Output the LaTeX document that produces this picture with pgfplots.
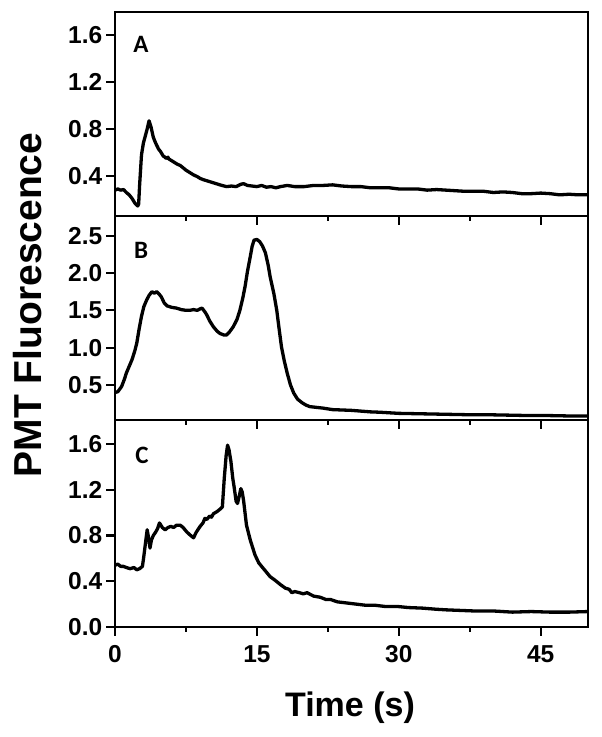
\documentclass[border=0pt]{standalone}
\usepackage{fontspec}
\setmainfont{Liberation Sans}
\newfontfamily\carlito{Carlito}
\usepackage{pgfplots}
\pgfplotsset{compat=1.18}
\tikzset{plabel/.style={font=\carlito\fontsize{25}{28}\selectfont\bfseries}}
\begin{document}
\begin{tikzpicture}
\useasboundingbox (0pt,0pt) rectangle (602pt,737pt);
\pgfplotsset{
 panel/.style={
  scale only axis, width=473pt, xmin=0, xmax=50,
  axis line style={line width=2.6pt},
  tick align=outside, xtick pos=bottom, ytick pos=left,
  major tick length=9pt, minor tick length=5pt,
  major tick style={line width=2.3pt, black},
  minor tick style={line width=2.3pt, black},
  xtick={0,15,30,45}, minor xtick={7.5,22.5,37.5},
  /pgf/number format/assume math mode=true,
  ticklabel style={font=\fontsize{24.5}{27}\selectfont\bfseries},
  yticklabel style={inner sep=3.5pt, /pgf/number format/.cd, fixed, fixed zerofill, precision=1},
  xticklabel style={inner sep=4pt, yshift=-5pt},
 },
 trace/.style={black, line width=3.3pt, no marks, line join=round},
}
% Panel A
\begin{axis}[panel, at={(115pt,521pt)}, anchor=south west, height=204pt,
  ymin=0.06, ymax=1.796, ytick={0.4,0.8,1.2,1.6}, xticklabels={}]
\addplot[trace] coordinates {
(0,0.28)(0.3,0.29)(0.6,0.28)(0.9,0.285)(1.2,0.26)(1.5,0.24)(1.8,0.21)(2.1,0.17)(2.4,0.145)(2.5,0.16)
(2.6,0.32)(2.8,0.58)(3.0,0.68)(3.2,0.74)(3.4,0.80)(3.6,0.87)(3.8,0.82)(4.05,0.73)(4.3,0.68)(4.6,0.63)
(4.8,0.61)(5.1,0.57)(5.3,0.56)(5.4,0.55)(5.6,0.56)(5.7,0.545)(6.0,0.53)(6.3,0.515)(6.6,0.50)(6.9,0.49)(7.2,0.47)(7.5,0.45)
(7.9,0.43)(8.3,0.41)(8.7,0.395)(9.0,0.38)(9.3,0.37)(9.7,0.36)(10.1,0.35)(10.5,0.34)(10.9,0.33)(11.3,0.32)
(11.8,0.31)(12.3,0.315)(12.8,0.31)(13.3,0.33)(13.6,0.335)(14.0,0.32)(14.5,0.315)(15.0,0.31)(15.5,0.32)(16.0,0.305)
(16.5,0.31)(17.0,0.30)(17.5,0.31)(18.2,0.32)(19.0,0.31)(20.0,0.31)(21.0,0.32)(22.0,0.32)(23.0,0.325)(24.0,0.315)
(25.0,0.31)(26.0,0.31)(27.0,0.30)(28.0,0.30)(29.0,0.30)(30.0,0.29)(31.0,0.29)(32.0,0.29)(33.0,0.28)(34.0,0.285)
(35.0,0.28)(36.0,0.275)(37.0,0.27)(38.0,0.27)(39.0,0.27)(40.0,0.26)(41.0,0.265)(42.0,0.26)(43.0,0.25)(44.0,0.25)
(45.0,0.255)(46.0,0.25)(47.0,0.24)(48.0,0.245)(49.0,0.24)(50.0,0.24)
};
\node[plabel] at (rel axis cs:0.055,0.84) {A};
\end{axis}
% Panel B
\begin{axis}[panel, at={(115pt,317pt)}, anchor=south west, height=204pt,
  ymin=0.031, ymax=2.764, ytick={0.5,1.0,1.5,2.0,2.5}, xticklabels={}]
\addplot[trace] coordinates {
(0,0.40)(0.3,0.41)(0.7,0.48)(1.0,0.58)(1.2,0.66)(1.5,0.75)(1.8,0.84)(2.1,0.96)(2.3,1.06)(2.55,1.25)
(2.8,1.42)(3.05,1.55)(3.35,1.64)(3.6,1.70)(3.9,1.75)(4.15,1.73)(4.4,1.75)(4.65,1.72)(4.9,1.68)(5.2,1.60)
(5.5,1.56)(6.0,1.54)(6.5,1.53)(7.0,1.51)(7.5,1.50)(7.9,1.50)(8.3,1.51)(8.7,1.50)(9.0,1.52)(9.2,1.53)
(9.5,1.48)(9.7,1.44)(10.0,1.36)(10.4,1.28)(10.8,1.22)(11.1,1.19)(11.5,1.17)(11.8,1.17)(12.1,1.21)(12.5,1.28)
(12.9,1.38)(13.2,1.50)(13.5,1.66)(13.75,1.82)(14.0,2.02)(14.3,2.22)(14.5,2.36)(14.7,2.44)(15.0,2.45)(15.3,2.42)
(15.6,2.36)(15.9,2.27)(16.2,2.10)(16.4,1.95)(16.8,1.72)(17.1,1.50)(17.35,1.25)(17.6,1.01)(17.9,0.82)(18.2,0.66)
(18.55,0.50)(18.9,0.39)(19.3,0.31)(19.8,0.26)(20.2,0.23)(20.6,0.21)(21.3,0.20)(22.0,0.19)(23.0,0.17)(24.0,0.165)
(25.0,0.16)(26.0,0.15)(27.0,0.14)(28.0,0.135)(30.0,0.12)(32.0,0.115)(34.0,0.11)(36.0,0.105)(38.0,0.10)(40.0,0.10)
(42.0,0.095)(44.0,0.09)(46.0,0.09)(48.0,0.085)(50.0,0.085)
};
\node[plabel] at (rel axis cs:0.055,0.83) {B};
\end{axis}
% Panel C
\begin{axis}[panel, at={(115pt,110pt)}, anchor=south west, height=207pt,
  ymin=0, ymax=1.81, ytick={0,0.4,0.8,1.2,1.6}]
\addplot[trace] coordinates {
(0,0.54)(0.3,0.55)(0.6,0.53)(0.9,0.53)(1.2,0.52)(1.6,0.51)(2.0,0.52)(2.3,0.50)(2.6,0.51)(2.9,0.53)
(3.05,0.62)(3.2,0.72)(3.4,0.85)(3.55,0.78)(3.7,0.69)(3.85,0.76)(4.05,0.80)(4.3,0.83)(4.5,0.86)(4.7,0.91)
(5.0,0.87)(5.3,0.85)(5.6,0.87)(5.9,0.88)(6.2,0.87)(6.5,0.89)(6.9,0.89)(7.2,0.87)(7.6,0.83)(8.0,0.80)
(8.3,0.78)(8.6,0.83)(9.0,0.88)(9.3,0.91)(9.5,0.95)(9.7,0.94)(10.0,0.97)(10.2,0.96)(10.4,0.99)(10.8,1.01)(11.1,1.03)(11.35,1.05)
(11.55,1.30)(11.75,1.50)(11.9,1.59)(12.05,1.55)(12.25,1.45)(12.45,1.30)(12.6,1.22)(12.8,1.10)(12.95,1.08)(13.15,1.15)
(13.3,1.21)(13.45,1.18)(13.6,1.10)(13.9,0.89)(14.3,0.76)(14.8,0.63)(15.2,0.56)(15.5,0.53)(16.0,0.48)(16.4,0.44)
(16.9,0.41)(17.5,0.37)(18.0,0.34)(18.4,0.33)(18.7,0.30)(19.0,0.31)(19.5,0.30)(19.9,0.29)(20.3,0.30)(21.0,0.27)
(21.7,0.26)(22.3,0.24)(22.8,0.24)(23.5,0.22)(24.5,0.21)(25.5,0.20)(26.5,0.19)(27.5,0.19)(28.5,0.18)(29.8,0.18)
(31.0,0.17)(32.5,0.165)(34.0,0.155)(35.0,0.15)(36.5,0.145)(38.0,0.14)(40.0,0.14)(42.0,0.13)(44.0,0.135)(46.0,0.13)
(48.0,0.13)(50.0,0.135)
};
\node[plabel] at (rel axis cs:0.057,0.83) {C};
\end{axis}
\node[rotate=90, font=\fontsize{39}{42}\selectfont\bfseries] at (27.5pt,432pt) {PMT Fluorescence};
\node[anchor=base, font=\fontsize{34}{38}\selectfont\bfseries] at (350pt,20pt) {Time (s)};
\end{tikzpicture}
\end{document}
